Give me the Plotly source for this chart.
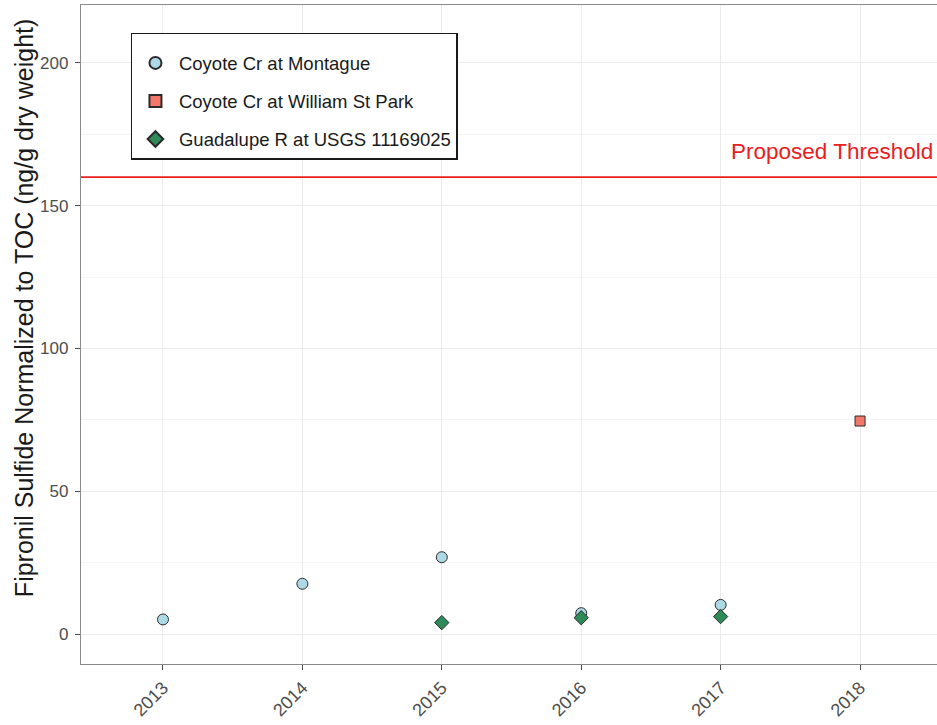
import plotly.graph_objects as go

# Fipronil sulfide (normalized to TOC) by site and year
montague_years = [2013, 2014, 2015, 2016, 2017]
montague_values = [5.1, 17.6, 26.9, 7.3, 10.2]

william_years = [2018]
william_values = [74.6]

guadalupe_years = [2015, 2016, 2017]
guadalupe_values = [4.0, 5.7, 6.1]

threshold = 160
year_ticks = [2013, 2014, 2015, 2016, 2017, 2018]
y_ticks = [0, 50, 100, 150, 200]
y_title = "Fipronil Sulfide Normalized to TOC (ng/g dry weight)"

font_family = "Liberation Sans, Arial, sans-serif"
outline = dict(color="#2B2B2B", width=1)

fig = go.Figure()

fig.add_trace(go.Scatter(
    x=montague_years, y=montague_values, mode="markers",
    name="Coyote Cr at Montague", legendgroup="a",
    marker=dict(symbol="circle", size=11, color="#ADD8E6", line=outline),
))
fig.add_trace(go.Scatter(
    x=william_years, y=william_values, mode="markers",
    name="Coyote Cr at William St Park", legendgroup="b",
    marker=dict(symbol="square", size=10, color="#F4776B", line=outline),
))
fig.add_trace(go.Scatter(
    x=guadalupe_years, y=guadalupe_values, mode="markers",
    name="Guadalupe R at USGS 11169025", legendgroup="c",
    marker=dict(symbol="diamond", size=11, color="#2E8B57", line=outline),
))

# Proposed threshold line across the full panel
fig.add_shape(type="line", xref="paper", yref="y", x0=0, x1=1,
              y0=threshold, y1=threshold,
              line=dict(color="#E8201F", width=1.8), layer="above")
fig.add_annotation(x=1, xref="paper", y=threshold, yref="y",
                   text="Proposed Threshold", showarrow=False,
                   xanchor="right", yanchor="bottom", yshift=11, xshift=-2,
                   font=dict(family=font_family, size=22.5, color="#E8201F"))

# Y-axis title
fig.add_annotation(x=0, xref="paper", y=0.54, yref="paper",
                   text=y_title, textangle=-90, showarrow=False,
                   xanchor="center", yanchor="middle", xshift=-57,
                   font=dict(family=font_family, size=25, color="#1A1A1A"))

fig.update_layout(
    width=937, height=725,
    margin=dict(l=81, r=0, t=5, b=61),
    paper_bgcolor="white", plot_bgcolor="white",
    font=dict(family=font_family, color="#4D4D4D"),
    showlegend=True,
    legend=dict(
        x=0.058, y=0.958, xanchor="left", yanchor="top",
        bgcolor="white", bordercolor="#1A1A1A", borderwidth=1.3,
        font=dict(family=font_family, size=18.5, color="#1A1A1A"),
        title=dict(text=" ", font=dict(size=8)),
        itemsizing="constant", itemwidth=37, tracegroupgap=11,
    ),
    xaxis=dict(
        range=[2012.412, 2018.552],
        tickmode="array", tickvals=year_ticks,
        ticktext=[str(y) for y in year_ticks],
        tickangle=-45,
        tickfont=dict(size=18, color="#4D4D4D"),
        ticks="outside", ticklen=5, tickcolor="#4D4D4D",
        showgrid=True, gridcolor="#EBEBEB", gridwidth=1.2,
        showline=True, linecolor="#8A8A8A", linewidth=1.4, mirror=True,
        zeroline=False,
    ),
    yaxis=dict(
        range=[-10.5, 220.3],
        tickmode="array", tickvals=y_ticks,
        tickfont=dict(size=17, color="#4D4D4D"),
        ticks="outside", ticklen=5, tickcolor="#4D4D4D",
        ticklabelstandoff=3,
        showgrid=True, gridcolor="#EBEBEB", gridwidth=1.2,
        minor=dict(tickvals=[25, 75, 125, 175], showgrid=True,
                   gridcolor="#F4F4F4", gridwidth=1, ticks=""),
        showline=True, linecolor="#8A8A8A", linewidth=1.4, mirror=False,
        zeroline=False,
    ),
)

fig.write_html("out.html")
